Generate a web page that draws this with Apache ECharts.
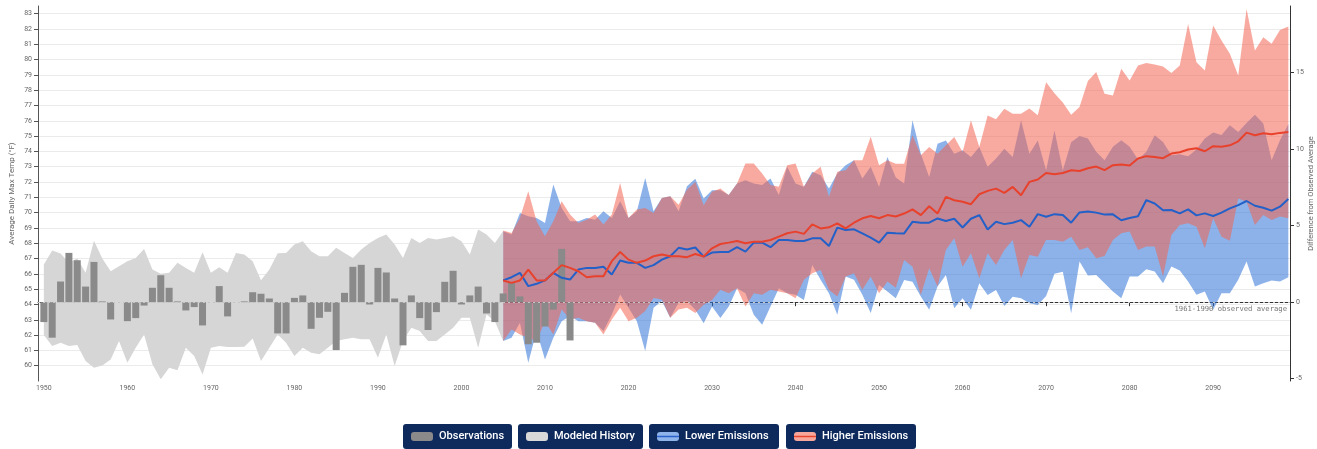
<!DOCTYPE html>
<html><head><meta charset="utf-8">
<script src="https://cdn.jsdelivr.net/npm/echarts@6/dist/echarts.min.js"></script>
<style>html,body{margin:0;padding:0;background:#fff}#c{width:1317px;height:449px}</style>
</head><body><div id="c"></div><script>
// ---- data (°F) ----
const OBS_AVG = 64.15;            // 1961-1990 observed average
const OBS_START = 1950;
const observations = [
  62.85, 61.83, 65.5, 67.37, 66.89, 65.17, 66.78, 64.2, 63.02, 64.15,
  62.91, 63.11, 63.93, 65.09, 65.91, 65.09, 64.2, 63.61, 63.83, 62.63,
  64.15, 65.2, 63.22, 64.15, 64.2, 64.8, 64.7, 64.39, 62.11, 62.11,
  64.43, 64.59, 62.41, 63.13, 63.52, 61.02, 64.76, 66.46, 66.59, 64.0,
  66.39, 66.09, 64.39, 61.33, 64.59, 63.11, 62.33, 63.5, 65.48, 66.2,
  64.0, 64.59, 65.17, 63.41, 62.85, 64.72, 65.45, 64.53, 61.4, 61.5,
  62.56, 63.66, 67.63, 61.65
];
const HIST_START = 1950;
const histLow = [
  62.0, 61.28, 61.5, 61.28, 61.35, 60.3, 59.87, 60.02, 60.41, 61.61,
  60.2, 61.17, 62.04, 60.09, 59.11, 59.87, 59.7, 61.17, 60.63, 59.43,
  61.17, 61.28, 61.22, 61.22, 61.24, 61.78, 60.3, 61.17, 62.04, 61.5,
  60.63, 61.17, 60.85, 60.74, 61.17, 61.61, 61.72, 61.83, 61.72, 61.72,
  60.52, 62.04, 59.98, 61.61, 62.48, 62.26, 61.61, 61.61, 62.04, 62.48,
  63.13, 63.13, 61.17, 63.35, 62.91, 61.61
];
const histHigh = [
  66.61, 67.52, 67.33, 66.72, 67.0, 66.07, 68.17, 67.0, 66.17, 66.5,
  66.83, 67.04, 67.63, 66.28, 66.0, 66.07, 66.72, 66.39, 66.07, 67.41,
  66.07, 66.43, 66.07, 67.37, 67.26, 66.83, 65.59, 66.28, 67.35, 67.37,
  67.91, 68.13, 67.48, 67.15, 67.15, 67.7, 67.37, 67.04, 67.59, 68.02,
  68.35, 68.57, 67.91, 67.04, 68.35, 68.02, 68.35, 68.24, 68.35, 68.46,
  68.13, 67.26, 68.89, 68.57, 68.02, 68.8
];
const FUT_START = 2005;
const lowerMin = [
  61.61, 61.83, 62.8, 60.2, 62.26, 60.41, 61.83, 62.91, 63.24, 62.91,
  62.91, 62.8, 62.26, 63.35, 64.65, 63.78, 62.91, 60.96, 63.78, 64.22,
  63.13, 64.11, 64.22, 63.65, 62.78, 63.87, 63.11, 63.87, 65.06, 64.74,
  63.33, 62.68, 63.87, 65.06, 64.74, 64.63, 64.3, 66.58, 65.61, 64.74,
  63.33, 65.82, 65.61, 64.63, 63.44, 65.28, 64.85, 64.4, 65.6, 65.49,
  64.52, 63.65, 65.17, 65.93, 63.76, 64.41, 63.65, 65.39, 64.62, 64.95,
  63.9, 64.5, 64.41, 64.08, 63.97, 64.55, 66.0, 66.14, 63.43, 66.8,
  65.89, 65.93, 65.39, 64.85, 64.41, 65.83, 65.83, 66.3, 66.15, 65.39,
  66.48, 66.22, 65.5, 64.63, 64.85, 63.65, 64.74, 64.74, 65.61, 66.8,
  65.17, 65.39, 65.56, 65.5, 65.78
];
const lowerMax = [
  68.78, 68.57, 69.98, 69.76, 69.65, 69.33, 71.83, 70.3, 69.43, 69.43,
  69.65, 69.54, 70.09, 69.65, 70.74, 69.65, 70.09, 72.26, 70.09, 70.96,
  71.07, 70.09, 71.72, 72.22, 70.93, 71.47, 71.47, 71.15, 71.91, 72.12,
  71.91, 71.8, 72.23, 71.15, 72.99, 71.91, 71.69, 72.67, 72.45, 71.58,
  72.56, 73.1, 73.43, 72.23, 72.99, 71.69, 73.64, 72.3, 71.9, 76.03,
  73.85, 72.33, 74.5, 74.72, 73.85, 74.07, 73.64, 74.29, 72.99, 73.53,
  74.18, 73.64, 76.03, 73.85, 74.72, 72.77, 75.37, 72.77, 74.6, 75.0,
  74.84, 73.97, 73.43, 74.3, 74.73, 74.3, 73.47, 73.97, 75.06, 74.62,
  73.75, 73.82, 73.69, 74.12, 74.84, 75.23, 75.08, 75.71, 75.27, 75.86,
  76.4, 75.82, 73.43, 74.73, 75.77
];
const lowerMedian = [
  65.57, 65.78, 66.07, 65.2, 65.35, 65.57, 66.07, 65.74, 65.63, 66.28,
  66.39, 66.39, 66.46, 65.96, 66.87, 66.72, 66.72, 66.39, 66.57, 66.93,
  67.15, 67.7, 67.59, 67.72, 67.13, 67.39, 67.43, 67.43, 67.74, 67.45,
  68.04, 68.04, 67.74, 68.21, 68.21, 68.15, 68.15, 68.32, 68.32, 67.82,
  69.02, 68.87, 68.91, 68.65, 68.37, 68.04, 68.69, 68.65, 68.64, 69.4,
  69.34, 69.34, 69.62, 69.45, 69.6, 69.03, 69.6, 69.84, 68.9, 69.4,
  69.25, 69.34, 69.51, 69.08, 69.9, 69.73, 69.9, 69.84, 69.34, 70.01,
  70.08, 70.0, 69.87, 69.89, 69.5, 69.65, 69.76, 70.82, 70.6, 70.15,
  70.17, 69.95, 70.21, 69.82, 69.95, 69.78, 70.0, 70.28, 70.49, 70.76,
  70.45, 70.32, 70.13, 70.39, 70.89
];
const higherMin = [
  61.61, 62.37, 62.04, 61.83, 61.61, 62.91, 62.04, 63.67, 63.02, 63.13,
  62.91, 62.8, 62.04, 63.02, 63.78, 62.91, 63.13, 63.57, 64.43, 64.33,
  63.13, 63.67, 63.78, 63.44, 63.98, 64.3, 64.96, 64.74, 65.06, 63.87,
  64.74, 64.63, 64.96, 64.85, 64.74, 64.41, 65.61, 66.04, 66.26, 64.96,
  64.52, 65.82, 66.04, 64.96, 65.82, 64.74, 65.5, 65.1, 66.9, 66.47,
  64.62, 66.36, 65.17, 67.56, 68.32, 66.47, 67.34, 65.71, 67.34, 66.58,
  67.56, 68.21, 65.71, 67.23, 67.12, 68.21, 68.21, 68.1, 68.43, 67.56,
  67.74, 67.02, 67.17, 68.21, 68.65, 68.76, 67.56, 67.78, 67.78, 65.83,
  68.54, 69.19, 69.3, 69.08, 67.67, 69.63, 68.43, 68.17, 70.93, 70.71,
  69.19, 69.84, 69.52, 69.74, 69.63
];
const higherMax = [
  68.83, 68.67, 69.65, 71.39, 69.43, 68.46, 69.43, 70.74, 69.87, 69.33,
  69.54, 69.87, 69.22, 69.87, 71.93, 69.65, 70.2, 70.3, 69.98, 70.96,
  71.07, 70.52, 71.5, 72.0, 70.49, 71.36, 71.58, 71.15, 71.91, 73.21,
  73.21, 72.56, 71.8, 71.69, 73.1, 73.21, 71.69, 72.56, 72.99, 71.04,
  72.67, 72.77, 73.43, 73.43, 74.95, 73.1, 73.43, 73.2, 73.2, 75.05,
  73.75, 74.29, 73.85, 74.4, 74.94, 73.96, 76.03, 74.29, 76.35, 76.1,
  76.79, 76.46, 76.46, 76.8, 76.36, 78.52, 77.8, 77.2, 76.4, 76.9,
  78.6, 79.18, 77.77, 77.66, 79.4, 78.64, 79.62, 79.77, 79.68, 79.55,
  79.12, 79.62, 82.33, 79.83, 79.29, 82.22, 81.24, 80.38, 78.96, 83.3,
  80.59, 81.46, 81.03, 81.94, 82.16
];
const higherMedian = [
  65.57, 65.41, 65.57, 66.28, 65.57, 65.57, 66.07, 66.57, 66.39, 66.17,
  65.78, 65.85, 65.85, 66.83, 67.43, 66.93, 66.72, 66.87, 67.15, 67.26,
  67.15, 67.15, 67.09, 67.3, 67.13, 67.67, 67.95, 68.04, 68.15, 68.0,
  68.1, 68.1, 68.21, 68.43, 68.65, 68.76, 68.61, 69.23, 68.97, 69.04,
  69.3, 68.97, 69.34, 69.63, 69.78, 69.63, 69.84, 69.75, 69.94, 70.21,
  69.84, 70.42, 69.94, 71.03, 70.81, 70.71, 70.55, 71.2, 71.42, 71.57,
  71.29, 71.68, 71.14, 72.01, 72.16, 72.59, 72.51, 72.59, 72.77, 72.72,
  72.9, 73.01, 72.78, 73.1, 73.14, 73.08, 73.54, 73.69, 73.64, 73.56,
  73.86, 73.95, 74.12, 74.21, 74.01, 74.34, 74.3, 74.4, 74.66, 75.23,
  75.06, 75.19, 75.12, 75.21, 75.27
];
const X_TICKS = [1950, 1960, 1970, 1980, 1990, 2000, 2010, 2020, 2030, 2040, 2050, 2060, 2070, 2080, 2090];
const Y_TICKS = [60, 61, 62, 63, 64, 65, 66, 67, 68, 69, 70, 71, 72, 73, 74, 75, 76, 77, 78, 79, 80, 81, 82, 83];
const DIFF_TICKS = [-5, 0, 5, 10, 15];
const LEGEND_ITEMS = ['Observations', 'Modeled History', 'Lower Emissions', 'Higher Emissions'];
const AVG_LABEL = '1961-1990 observed average';

// ---- build ----
const Y_MIN = 59, Y_MAX = 83.5;
const pairs = (start, arr) => arr.map((v, i) => [start + i, v]);

// band drawn as one polygon through the chart's own coordinate system
function band(id, start, lo, hi, color) {
  const data = lo.map((v, i) => [start + i, v, hi[i]]);
  return {
    type: 'custom', id: id, silent: true, animation: false,
    encode: { x: 0, y: [1, 2] },
    data: data,
    renderItem: function (params, api) {
      if (params.dataIndex !== 0) return null;
      const pts = [];
      for (let i = 0; i < data.length; i++) pts.push(api.coord([data[i][0], data[i][2]]));
      for (let i = data.length - 1; i >= 0; i--) pts.push(api.coord([data[i][0], data[i][1]]));
      return { type: 'polygon', shape: { points: pts }, style: { fill: color, stroke: null } };
    }
  };
}

const chart = echarts.init(document.getElementById('c'));
const axisText = { fontSize: 7, color: '#666', fontFamily: 'Roboto' };

const LEGEND_LAYOUT = [
  { x: 403, w: 109, fill: '#8a8a8a', line: null },
  { x: 518, w: 125, fill: '#d9d9d9', line: null },
  { x: 649, w: 130, fill: '#8fb4ea', line: '#2a62c9' },
  { x: 786, w: 130, fill: '#f7a69b', line: '#e8442e' }
];
const graphic = LEGEND_ITEMS.map((name, i) => {
  const L = LEGEND_LAYOUT[i];
  const ch = [
    { type: 'rect', shape: { x: 0, y: 0, width: L.w, height: 25, r: 3 }, style: { fill: '#0e2a5c' } },
    { type: 'rect', shape: { x: 8, y: 8, width: 22, height: 9, r: 3 }, style: { fill: L.fill } }
  ];
  if (L.line) ch.push({ type: 'line', shape: { x1: 8, y1: 12.5, x2: 30, y2: 12.5 }, style: { stroke: L.line, lineWidth: 1.5 } });
  ch.push({ type: 'text', x: 36, y: 12.5, style: { text: name, fill: '#ffffff', fontSize: 11, fontFamily: 'Roboto', fontWeight: 500, verticalAlign: 'middle', align: 'left' } });
  return { type: 'group', left: L.x, top: 424, children: ch };
});

chart.setOption({
  animation: false,
  backgroundColor: '#fff',
  grid: { left: 38, right: 27, top: 6, bottom: 68, containLabel: false, outerBoundsMode: 'none' },
  xAxis: {
    type: 'value', min: 1949.3, max: 2099.2,
    axisLine: { show: true, lineStyle: { color: '#333' } },
    axisTick: { show: true, length: 4, customValues: X_TICKS, lineStyle: { color: '#333' } },
    axisLabel: Object.assign({ customValues: X_TICKS, margin: 4, formatter: v => String(v) }, axisText),
    splitLine: { show: false }
  },
  yAxis: [
    {
      type: 'value', position: 'left', min: Y_MIN, max: Y_MAX, interval: 1,
      name: 'Average Daily Max Temp (°F)', nameLocation: 'middle', nameRotate: 90, nameGap: 22,
      nameMoveOverlap: false,
      nameTextStyle: { fontSize: 8, color: '#666', fontFamily: 'Roboto' },
      axisLine: { show: true, lineStyle: { color: '#555' } },
      axisTick: { show: true, length: 4, customValues: Y_TICKS, lineStyle: { color: '#555' } },
      axisLabel: Object.assign({ customValues: Y_TICKS, margin: 6, formatter: v => String(v) }, axisText),
      splitLine: { show: true, lineStyle: { color: '#ebebeb', width: 1 } }
    },
    {
      type: 'value', position: 'right', min: Y_MIN - OBS_AVG, max: Y_MAX - OBS_AVG,
      name: 'Difference from Observed Average', nameLocation: 'middle', nameRotate: 90, nameGap: 17,
      nameMoveOverlap: false,
      nameTextStyle: { fontSize: 7.5, color: '#666', fontFamily: 'Roboto' },
      axisLine: { show: true, lineStyle: { color: '#333' } },
      axisTick: { show: true, length: 4, customValues: DIFF_TICKS, lineStyle: { color: '#333' } },
      axisLabel: Object.assign({ customValues: DIFF_TICKS, margin: 6, formatter: v => String(v) }, axisText),
      splitLine: { show: false }
    }
  ],
  series: [
    band('hist', HIST_START, histLow, histHigh, '#d6d6d6'),
    { type: 'bar', id: 'obs', yAxisIndex: 1, barWidth: 7, silent: true, animation: false,
      data: observations.map((v, i) => [OBS_START + i, +(v - OBS_AVG).toFixed(3)]),
      itemStyle: { color: '#8a8a8a' } },
    band('lower', FUT_START, lowerMin, lowerMax, 'rgba(45,115,215,0.55)'),
    band('higher', FUT_START, higherMin, higherMax, 'rgba(242,100,82,0.55)'),
    { type: 'line', id: 'lowerMed', data: pairs(FUT_START, lowerMedian), symbol: 'none', silent: true,
      lineStyle: { color: '#2360c8', width: 2 } },
    { type: 'line', id: 'higherMed', data: pairs(FUT_START, higherMedian), symbol: 'none', silent: true,
      lineStyle: { color: '#e8412c', width: 2 },
      markLine: {
        silent: true, symbol: ['none', 'none'], animation: false,
        lineStyle: { color: '#c4c4c4', type: [2, 3], width: 1 },
        label: { show: true, position: 'insideEndBottom', formatter: AVG_LABEL, fontFamily: 'DejaVu Sans Mono', fontSize: 7.2, color: '#777', distance: 3 },
        data: [{ yAxis: OBS_AVG }]
      } }
  ],
  graphic: graphic
});
</script></body></html>
